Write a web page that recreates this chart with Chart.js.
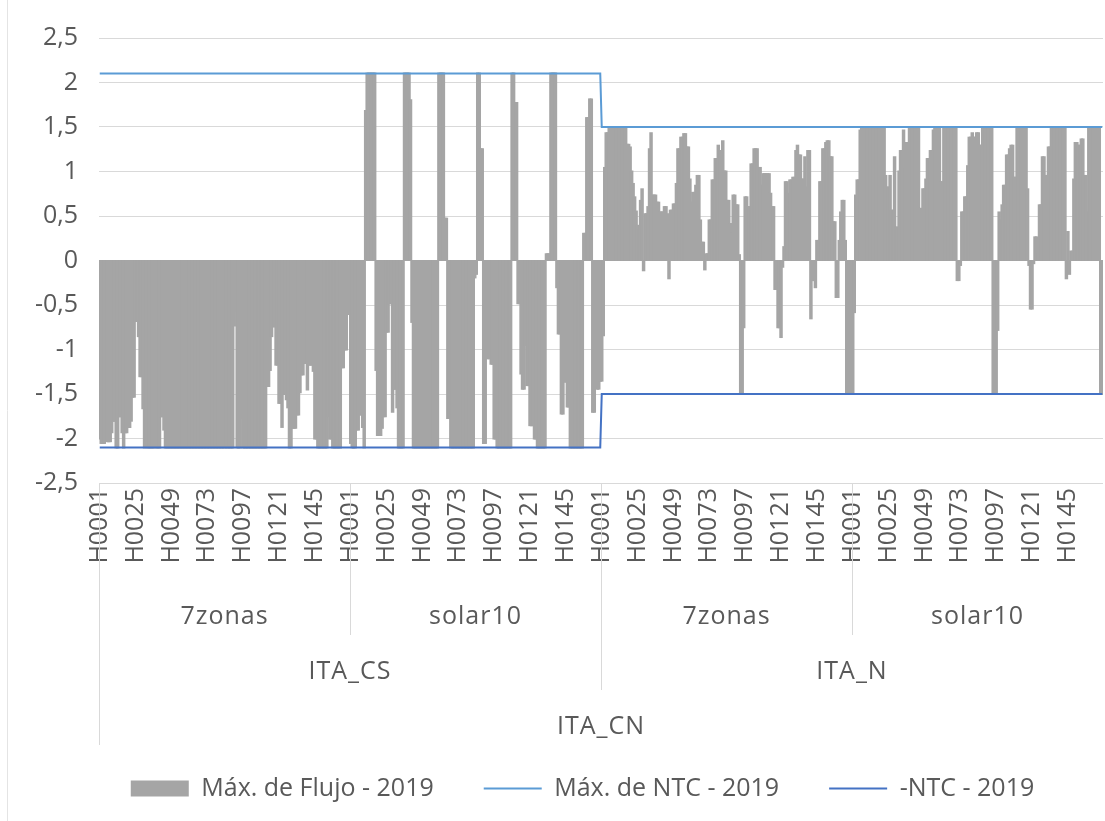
<!DOCTYPE html>
<html>
<head>
<meta charset="utf-8">
<title>Flujo ITA_CN 2019</title>
<script src="https://cdn.jsdelivr.net/npm/chart.js@4.4.1/dist/chart.umd.min.js"></script>
<style>
  html, body { margin: 0; padding: 0; background: #fff; }
  #wrap { width: 1105px; height: 821px; }
</style>
</head>
<body>
<div id="wrap"><canvas id="flujoChart" width="1105" height="821"></canvas></div>
<script>
// niveles del eje de categorías
const frontera = 'ITA_CN';
const zonas = ['ITA_CS', 'ITA_N'];
const escenarios = ['7zonas', 'solar10'];
const horas = [];
for (let h = 1; h <= 168; h++) horas.push('H' + String(h).padStart(4, '0'));

// Máx. de Flujo - 2019 (una lista por zona / escenario, 168 horas cada una)
const flujoCS7zonas = [
  -2.0, -2.05, -2.05, -2.05, -1.96, -2.03, -2.03, -2.03, -1.93, -1.8, -1.8, -2.1,
  -2.1, -1.75, -1.75, -1.93, -2.1, -1.93, -1.93, -1.87, -1.87, -1.8, -1.53, -1.53,
  -0.68, -0.68, -0.85, -1.3, -1.3, -1.66, -2.1, -2.03, -2.1, -2.1, -2.1, -2.1,
  -2.1, -2.03, -2.1, -2.1, -2.1, -1.75, -1.75, -1.9, -2.1, -2.1, -2.1, -2.1,
  -2.1, -2.1, -2.1, -2.1, -2.1, -2.1, -2.1, -2.1, -2.1, -2.1, -2.1, -2.1,
  -2.1, -2.1, -2.1, -2.1, -2.1, -2.1, -2.1, -2.1, -2.1, -2.1, -2.1, -2.1,
  -2.1, -2.1, -2.1, -2.1, -2.1, -2.1, -2.1, -2.1, -2.1, -2.1, -2.1, -2.1,
  -2.1, -2.1, -2.1, -2.1, -2.1, -2.1, -0.73, -0.57, -2.1, -2.1, -2.1, -1.77,
  -2.1, -2.1, -2.1, -2.1, -2.1, -2.1, -2.1, -2.1, -2.1, -2.1, -2.1, -2.1,
  -2.1, -2.1, -2.1, -2.1, -1.41, -1.41, -1.23, -0.85, -0.74, -0.74, -1.17, -1.17,
  -1.6, -1.6, -1.87, -1.5, -1.5, -1.56, -1.65, -2.1, -2.1, -1.88, -1.88, -1.88,
  -1.73, -1.73, -1.48, -1.28, -1.28, -1.15, -1.15, -1.45, -1.17, -1.17, -1.17, -1.24,
  -2.0, -2.0, -2.1, -2.1, -2.1, -2.1, -2.1, -2.1, -2.1, -1.75, -2.0, -2.0,
  -2.1, -2.1, -2.1, -2.1, -2.1, -2.1, -1.2, -1.2, -1.0, -1.0, -0.6, -0.6
];
const flujoCSsolar10 = [
  -2.05, -2.1, -2.1, -2.1, -1.9, -1.9, -1.73, -1.73, -1.87, -2.1, 1.68, 2.1,
  2.1, 2.1, 2.1, 2.1, 2.1, -1.23, -1.96, -1.96, -1.96, -1.88, -1.75, -1.75,
  -0.8, -0.8, -0.48, -0.48, -1.7, -1.44, -1.44, -1.65, -2.1, -2.1, -2.1, -2.1,
  2.1, 2.1, 2.1, 2.1, 1.8, -0.69, -2.1, -2.1, -2.1, -2.1, -2.1, -2.1,
  -2.1, -2.1, -2.1, -2.1, -2.1, -2.1, -2.1, -2.1, -2.1, -2.1, -2.1, 2.1,
  2.1, 2.1, 2.1, 0.47, 0.47, -1.77, -1.77, -2.1, -2.1, -2.1, -2.1, -2.1,
  -2.1, -2.1, -2.1, -2.1, -2.1, -2.1, -2.1, -2.1, -2.1, -2.1, -2.1, -0.19,
  -0.15, 2.1, 2.1, 1.25, 1.25, -2.05, -2.05, -1.1, -1.0, -1.1, -1.16, -1.16,
  -2.0, -2.0, -2.1, -2.1, -2.1, -2.1, -2.1, -2.1, -2.1, -2.1, -2.1, -2.1,
  2.1, 2.1, 1.77, 1.77, -0.48, -0.48, -1.27, -1.44, -1.44, -0.95, -1.4, -1.4,
  -1.85, -1.85, -1.85, -2.0, -2.0, -2.1, -2.1, -2.1, -2.1, -2.1, -2.1, 0.07,
  0.07, 0.07, 2.1, 2.1, 2.1, 2.1, -0.3, -0.82, -0.82, -1.72, -1.72, -1.36,
  -1.36, -1.64, -1.64, -2.1, -2.1, -2.1, -2.1, -2.1, -2.1, -2.1, -2.1, -2.1,
  0.3, 0.3, 1.6, 1.6, 1.81, 1.81, -1.7, -1.7, -1.0, -1.44, -1.44, -1.35
];
const flujoN7zonas = [
  -1.35, -0.84, 1.04, 1.43, 1.43, 1.5, 1.5, 1.5, 1.5, 1.5, 1.5, 1.5,
  1.5, 1.5, 1.5, 1.5, 1.5, 1.3, 1.3, 1.27, 1.0, 0.86, 0.71, 0.55,
  0.39, 0.35, 0.67, 0.8, -0.11, 0.52, 0.52, 0.6, 1.25, 1.43, 0.73, 0.73,
  0.73, 0.65, 0.65, 0.54, 0.54, 0.54, 0.6, 0.6, 0.52, -0.2, 0.56, 0.56,
  0.63, 0.63, 0.86, 1.25, 1.25, 1.38, 1.38, 1.42, 1.42, 1.27, 1.27, 0.91,
  0.65, 0.76, 0.76, 0.84, 0.95, 0.95, 0.45, 0.2, 0.2, -0.1, 0.07, 0.07,
  0.45, 0.45, 0.9, 0.9, 1.14, 1.14, 1.29, 1.23, 1.23, 1.34, 1.0, 1.0,
  0.67, 0.67, 0.41, 0.3, 0.73, 0.73, 0.62, 0.62, 0.06, -1.5, -1.5, -0.75,
  0.71, 0.71, 0.6, 0.6, 1.08, 1.08, 1.25, 1.25, 1.25, 1.04, 1.04, 0.84,
  0.97, 0.97, 0.97, 0.97, 0.97, 0.75, 0.6, 0.6, -0.32, -0.32, -0.75, -0.75,
  -0.86, -0.07, 0.15, 0.88, 0.88, 0.75, 0.9, 0.9, 0.93, 0.93, 1.23, 1.29,
  1.18, 1.18, 0.91, 0.91, 1.16, 0.82, 1.23, 1.23, -0.65, -0.22, -0.22, -0.3,
  0.22, 0.22, 0.88, 0.88, 1.25, 1.25, 1.32, 1.34, 1.34, 1.16, 1.16, 0.43,
  0.43, -0.41, -0.41, 0.22, 0.54, 0.67, 0.67, 0.22, -1.5, -1.5, -1.5, -1.5
];
const flujoNsolar10 = [
  -1.5, -0.58, 0.73, 0.9, 0.9, 1.46, 1.5, 1.5, 1.5, 1.5, 1.5, 1.5,
  1.5, 1.5, 1.5, 1.5, 1.5, 1.5, 1.5, 1.5, 1.5, 1.5, 0.95, 0.82,
  0.82, 0.95, 0.56, 0.56, 1.16, 0.37, 0.37, 1.0, 1.23, 1.23, 1.46, 1.02,
  1.32, 1.32, 1.5, 1.5, 1.5, 1.5, 1.5, 1.5, 1.5, 0.58, 0.58, 0.8,
  0.8, 0.91, 1.14, 1.14, 1.23, 1.23, 1.46, 1.5, 1.5, 1.5, 1.5, 0.88,
  0.88, 1.5, 1.5, 1.5, 1.5, 1.5, 1.5, 1.5, 1.5, 1.5, -0.22, -0.22,
  -0.05, 0.54, 0.54, 0.71, 0.71, 1.06, 1.38, 1.38, 1.43, 1.38, 1.38, 1.43,
  1.43, 1.29, 1.29, 1.5, 1.5, 1.5, 1.5, 1.5, 1.5, 1.5, -1.5, -1.5,
  -1.5, -0.78, 0.54, 0.45, 0.62, 0.84, 0.84, 1.18, 1.18, 1.25, 1.29, 1.29,
  0.93, 0.93, 1.5, 1.5, 1.5, 1.5, 1.5, 1.5, 1.5, 0.8, -0.05, -0.54,
  -0.54, -0.03, 0.26, 0.26, 0.07, 0.62, 0.62, 1.16, 1.16, 0.95, 0.95, 1.27,
  1.27, 1.5, 1.5, 1.5, 1.5, 1.5, 1.5, 1.5, 1.5, 1.5, 1.5, -0.2,
  0.32, -0.15, 0.1, 0.1, 0.91, 1.32, 1.32, 1.29, 1.29, 1.36, 1.36, 0.95,
  0.95, 0.54, 1.5, 1.5, 1.5, 1.5, 1.5, 1.5, 1.5, 1.5, -1.5, -1.5
];

// NTC: puntos de quiebre (posición de la hora en el eje completo)
const ntcHoras = [0, 335, 336, 671];
const ntcMax = [2.1, 2.1, 1.5, 1.5];
const ntcMin = [-2.1, -2.1, -1.5, -1.5];

const fuente = "'Open Sans', sans-serif";
const tamFuente = 25;
const colorTexto = '#595959';
const colorRejilla = '#d9d9d9';

const flujo = [...flujoCS7zonas, ...flujoCSsolar10, ...flujoN7zonas, ...flujoNsolar10];
// etiquetas únicas zona|escenario|hora, se muestran sólo las horas
const etiquetas = [];
zonas.forEach(z => escenarios.forEach(e => horas.forEach(h => etiquetas.push(z + '|' + e + '|' + h))));

// eje de categorías de varios niveles (escenario / zona / frontera)
const ejeMultinivel = {
  id: 'ejeMultinivel',
  afterLayout(chart) {
    // la leyenda de Excel queda centrada un poco a la derecha
    if (chart.legend) {
      chart.legend.left += 31;
      chart.legend.right += 31;
    }
  },
  beforeDraw(chart) {
    const { ctx, height } = chart;
    ctx.save();
    ctx.strokeStyle = '#e4e4e4';
    ctx.beginPath();
    ctx.moveTo(7.5, 0);
    ctx.lineTo(7.5, height);
    ctx.stroke();
    ctx.restore();
  },
  afterDraw(chart) {
    const { ctx, chartArea: a, scales } = chart;
    const total = scales.x.getLabels().length;
    const paso = (a.right - a.left) / total;
    const nH = horas.length;
    const borde = i => Math.round(a.left + i * paso) + 0.5;
    ctx.save();
    ctx.strokeStyle = colorRejilla;
    ctx.lineWidth = 1;
    [[0, 262], [nH, 152], [2 * nH, 207], [3 * nH, 152]].forEach(([i, largo]) => {
      ctx.beginPath();
      ctx.moveTo(borde(i), a.bottom);
      ctx.lineTo(borde(i), a.bottom + largo);
      ctx.stroke();
    });
    ctx.fillStyle = colorTexto;
    ctx.font = tamFuente + 'px ' + fuente;
    ctx.textAlign = 'center';
    ctx.textBaseline = 'middle';
    ctx.letterSpacing = '1px';
    zonas.forEach((z, zi) => {
      escenarios.forEach((e, ei) => {
        const g = zi * escenarios.length + ei;
        ctx.fillText(e, a.left + (g + 0.5) * nH * paso, a.bottom + 134);
      });
      ctx.fillText(z, a.left + (zi + 0.5) * escenarios.length * nH * paso, a.bottom + 189);
    });
    ctx.fillText(frontera, (a.left + a.right) / 2, a.bottom + 244);
    ctx.restore();
  }
};

new Chart(document.getElementById('flujoChart'), {
  type: 'bar',
  data: {
    labels: etiquetas,
    datasets: [
      {
        label: 'Máx. de Flujo - 2019',
        data: flujo,
        backgroundColor: '#a5a5a5',
        borderWidth: 0,
        inflateAmount: 1,
        barPercentage: 1,
        categoryPercentage: 1,
        order: 1
      },
      {
        type: 'line',
        label: 'Máx. de NTC - 2019',
        data: ntcHoras.map((h, i) => ({ x: etiquetas[h], y: ntcMax[i] })),
        borderColor: '#5b9bd5',
        borderWidth: 2,
        pointRadius: 0,
        tension: 0,
        order: 0
      },
      {
        type: 'line',
        label: '-NTC - 2019',
        data: ntcHoras.map((h, i) => ({ x: etiquetas[h], y: ntcMin[i] })),
        borderColor: '#4472c4',
        borderWidth: 2,
        pointRadius: 0,
        tension: 0,
        order: 0
      }
    ]
  },
  options: {
    responsive: false,
    animation: false,
    events: [],
    layout: { padding: { left: 0, right: 2, top: 38, bottom: 10 } },
    plugins: {
      tooltip: { enabled: false },
      legend: {
        position: 'bottom',
        labels: {
          usePointStyle: true,
          pointStyleWidth: 58,
          boxHeight: 16,
          padding: 50,
          color: colorTexto,
          font: { family: fuente, size: tamFuente },
          generateLabels: (chart) => chart.data.datasets.map((ds, i) => ({
            text: ds.label,
            datasetIndex: i,
            hidden: false,
            fontColor: colorTexto,
            pointStyle: ds.type === 'line' ? 'line' : 'rect',
            fillStyle: ds.type === 'line' ? ds.borderColor : ds.backgroundColor,
            strokeStyle: ds.type === 'line' ? ds.borderColor : ds.backgroundColor,
            lineWidth: ds.type === 'line' ? 2 : 0
          }))
        }
      }
    },
    scales: {
      x: {
        grid: { display: false, drawTicks: false },
        border: { display: false },
        ticks: {
          autoSkip: false,
          minRotation: 90,
          maxRotation: 90,
          padding: 5,
          color: colorTexto,
          font: { family: fuente, size: tamFuente },
          callback: (v, i) => (i % 24 === 0 ? horas[i % horas.length] : '')
        },
        afterFit: (s) => {
          s.height = 243;
          s.paddingLeft = 0;
          s.paddingRight = 0;
        }
      },
      y: {
        min: -2.5,
        max: 2.5,
        grid: { color: colorRejilla, drawTicks: false },
        border: { display: false },
        ticks: {
          stepSize: 0.5,
          padding: 21,
          color: colorTexto,
          font: { family: fuente, size: tamFuente },
          callback: (v) => String(v).replace('.', ',')
        },
        afterFit: (s) => { s.width = 99; }
      }
    }
  },
  plugins: [ejeMultinivel]
});
</script>
</body>
</html>
